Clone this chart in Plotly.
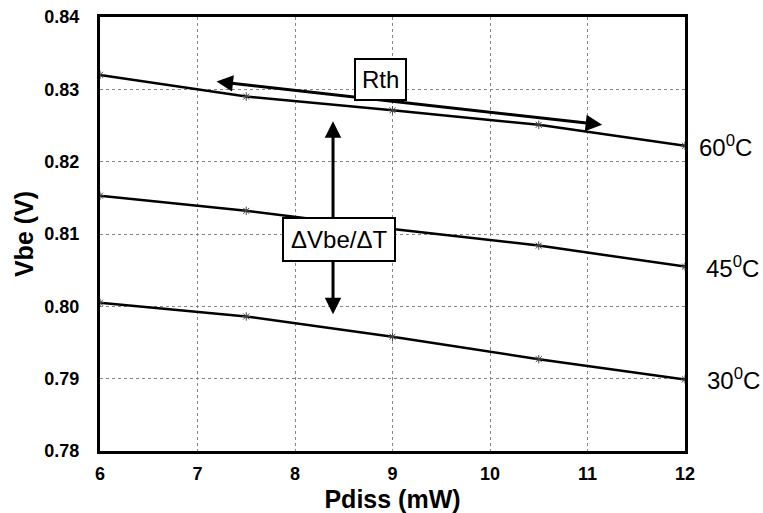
import plotly.graph_objects as go

pdiss = [6, 7.5, 9, 10.5, 12]
vbe_60 = [0.8320, 0.8290, 0.8271, 0.8251, 0.8222]
vbe_45 = [0.8153, 0.8132, 0.8107, 0.8084, 0.8055]
vbe_30 = [0.8005, 0.7986, 0.7958, 0.7927, 0.7899]
series = [("60<sup>0</sup>C", vbe_60, 12), ("45<sup>0</sup>C", vbe_45, 19), ("30<sup>0</sup>C", vbe_30, 20)]
x_ticks = [6, 7, 8, 9, 10, 11, 12]
y_ticks = [0.78, 0.79, 0.80, 0.81, 0.82, 0.83, 0.84]

FONT = "Arial, Liberation Sans, sans-serif"
fig = go.Figure()
for name, vals, _ in series:
    fig.add_trace(go.Scatter(
        x=pdiss, y=vals, mode="lines+markers", name=name,
        line=dict(color="black", width=2.5),
        marker=dict(symbol="asterisk-open", size=7, color="#444444", line=dict(width=1, color="#444444")),
        showlegend=False))

ann = []
for name, vals, shift in series:
    ann.append(dict(x=pdiss[-1], y=vals[-1], xref="x", yref="y", text=name, showarrow=False,
                    xanchor="left", yanchor="middle", xshift=shift,
                    font=dict(family=FONT, size=24, color="black")))
# Rth double arrow
ann.append(dict(x=11.15, y=0.8251, ax=7.18, ay=0.8311, xref="x", yref="y", axref="x", ayref="y",
                text="", showarrow=True, arrowhead=2, startarrowhead=2, arrowside="end+start",
                arrowwidth=3, arrowsize=1.1, startarrowsize=1.1, arrowcolor="black", standoff=0, startstandoff=0))
# dVbe/dT double arrow
ann.append(dict(x=8.39, y=0.7989, ax=8.39, ay=0.8258, xref="x", yref="y", axref="x", ayref="y",
                text="", showarrow=True, arrowhead=2, startarrowhead=2, arrowside="end+start",
                arrowwidth=3, arrowsize=1.1, startarrowsize=1.1, arrowcolor="black", standoff=0, startstandoff=0))
ann.append(dict(x=8.88, y=0.8313, xref="x", yref="y", text="Rth", showarrow=False,
                bgcolor="white", bordercolor="black", borderwidth=2, borderpad=6,
                font=dict(family=FONT, size=24, color="black")))
ann.append(dict(x=8.45, y=0.8092, xref="x", yref="y", text="ΔVbe/ΔT", showarrow=False,
                bgcolor="white", bordercolor="black", borderwidth=2, borderpad=7,
                font=dict(family=FONT, size=24, color="black")))

fig.update_layout(
    width=763, height=513,
    margin=dict(l=100, r=78, t=17, b=62),
    paper_bgcolor="white", plot_bgcolor="white",
    font=dict(family=FONT, color="black"),
    annotations=ann,
    xaxis=dict(range=[6, 12], tickvals=x_ticks, ticktext=[str(v) for v in x_ticks],
               showgrid=True, gridcolor="#888888", griddash="dot", gridwidth=1,
               showline=True, linecolor="black", linewidth=3, mirror=True,
               ticks="", ticklabelstandoff=4, zeroline=False, automargin=False,
               tickfont=dict(family=FONT, size=18, color="black", weight="bold"),
               title=dict(text="<b>Pdiss (mW)</b>", font=dict(family=FONT, size=25, color="black"), standoff=8)),
    yaxis=dict(range=[0.78, 0.84], tickvals=y_ticks, ticktext=[f"{v:.2f}" for v in y_ticks],
               showgrid=True, gridcolor="#888888", griddash="dot", gridwidth=1,
               showline=True, linecolor="black", linewidth=3, mirror=True,
               ticks="", ticklabelstandoff=14, zeroline=False, automargin=False,
               tickfont=dict(family=FONT, size=18, color="black", weight="bold"),
               title=dict(text="<b>Vbe (V)</b>", font=dict(family=FONT, size=25, color="black"), standoff=4)),
)
fig.write_html("out.html")
